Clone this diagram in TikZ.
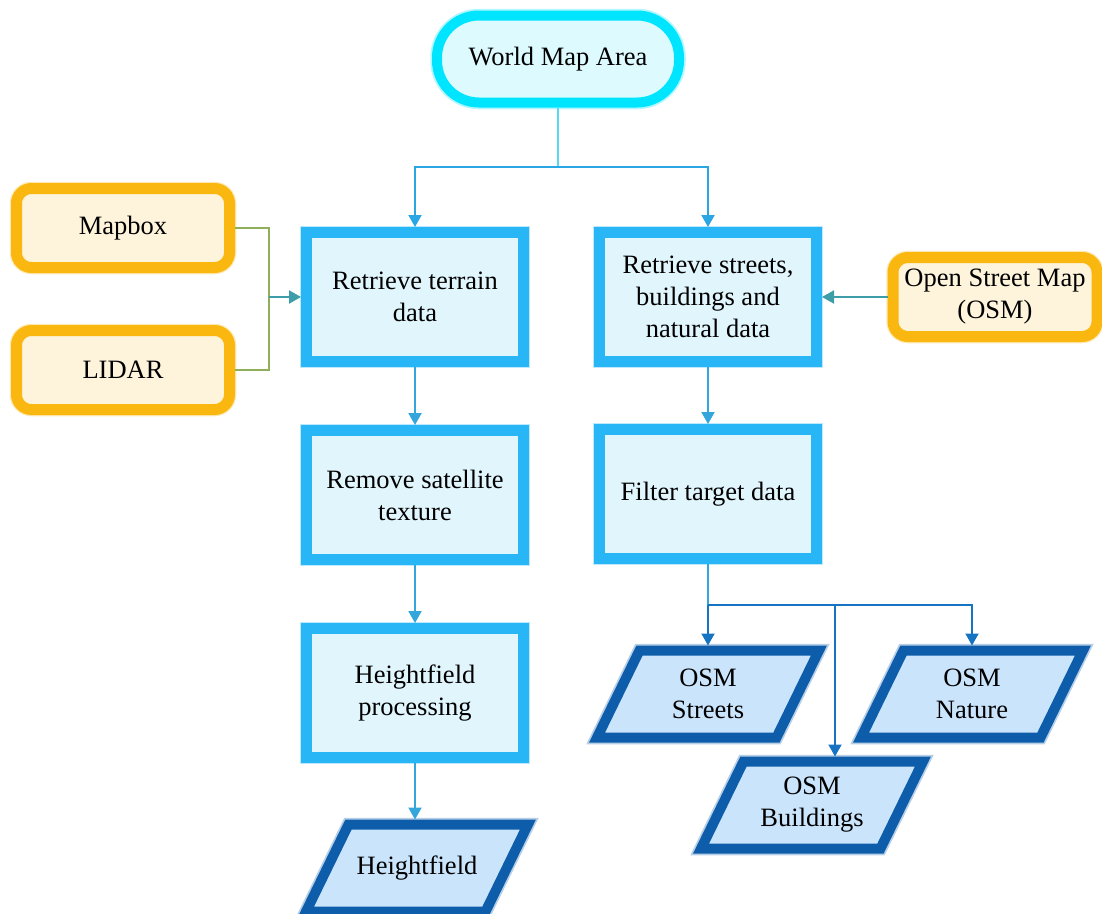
\documentclass[tikz,border=0pt]{standalone}
\usepackage{fontspec}
\setmainfont{Liberation Serif}
\usetikzlibrary{shapes.geometric,arrows.meta}

\definecolor{startB}{HTML}{00E5FF}
\definecolor{startF}{HTML}{DDFAFF}
\definecolor{procB}{HTML}{29B6F6}
\definecolor{procF}{HTML}{E1F5FD}
\definecolor{srcB}{HTML}{FAB70F}
\definecolor{srcF}{HTML}{FEF3DB}
\definecolor{dataB}{HTML}{0D5DAB}
\definecolor{dataF}{HTML}{C9E4FB}
\definecolor{topLine}{HTML}{2AA6E4}
\definecolor{stemLine}{HTML}{5AD8F2}
\definecolor{colLine}{HTML}{34A6DC}
\definecolor{srcLine}{HTML}{8FAF5A}
\definecolor{srcArrow}{HTML}{3D9DA8}
\definecolor{outLine}{HTML}{1673C2}

% fixed-size text block for the parallelogram data nodes
\newcommand\dataLabel[1]{\parbox[c][87pt][c]{137pt}{\centering #1}}

\begin{document}
\begin{tikzpicture}[x=1pt,y=-1pt,
  font=\fontsize{26.5}{32}\selectfont,
  glow/.style={preaction={draw=#1,line width=13.5pt,opacity=0.3}},
  startbox/.style={rectangle,rounded corners=42pt,draw=startB,fill=startF,
    line width=10pt,minimum width=242pt,minimum height=87pt,glow=startB},
  procbox/.style={rectangle,draw=procB,fill=procF,line width=11pt,
    minimum width=217pt,minimum height=129pt,align=center,inner sep=2pt,glow=procB},
  srcbox/.style={rectangle,rounded corners=15pt,draw=srcB,fill=srcF,line width=11pt,
    minimum height=79pt,align=center,inner sep=2pt,glow=srcB},
  databox/.style={trapezium,trapezium left angle=64,trapezium right angle=116,
    draw=dataB,fill=dataF,line width=10pt,inner sep=0pt,glow=dataB},
  tip/.style={-{Triangle[length=12pt,width=13pt]}},
  link/.style={line width=2pt}
]
\useasboundingbox (0,0) rectangle (1102,913);

% top terminal
\node[startbox] (wma) at (558,59) {World Map Area};

% left column: terrain pipeline
\node[procbox] (terrain) at (415,297) {Retrieve terrain\\data};
\node[procbox] (sat) at (415,495) {Remove satellite\\texture};
\node[procbox] (hproc) at (415,693) {Heightfield\\processing};
\node[databox] (hf) at (417,868) {\dataLabel{Heightfield}};

% right column: OSM pipeline
\node[procbox] (streets) at (708,297) {Retrieve streets,\\buildings and\\natural data};
\node[procbox] (filter) at (708,494) {Filter target data};
\node[databox] (ostreets) at (708,694) {\dataLabel{OSM\\Streets}};
\node[databox] (onature) at (972,694) {\dataLabel{OSM\\Nature}};
\node[databox] (obuild) at (812,805) {\dataLabel{OSM\\Buildings}};

% data sources
\node[srcbox,minimum width=213pt] (mapbox) at (123,228) {Mapbox};
\node[srcbox,minimum width=213pt] (lidar) at (123,370) {LIDAR};
\node[srcbox,minimum width=204pt] (osm) at (995,297) {Open Street Map\\(OSM)};

% split below the terminal
\coordinate (split) at (558,167);
\draw[link,stemLine] (wma.south) -- (split);
\draw[link,topLine,tip] (split) -| (terrain.north);
\draw[link,topLine,tip] (split) -| (streets.north);

% sources feeding the retrieval steps
\coordinate (srcjoin) at (269,297);
\draw[link,srcLine] (mapbox.east) -| (srcjoin);
\draw[link,srcLine] (lidar.east) -| (srcjoin);
\draw[link,srcArrow,tip] (srcjoin) -- (terrain.west);
\draw[link,srcArrow,tip] (osm.west) -- (streets.east);

% column flows
\draw[link,colLine,tip] (terrain.south) -- (sat.north);
\draw[link,colLine,tip] (sat.south) -- (hproc.north);
\draw[link,colLine,tip] (hproc.south) -- (hproc.south |- hf.north);
\draw[link,colLine,tip] (streets.south) -- (filter.north);

% filter outputs
\coordinate (fsplit) at (708,605);
\coordinate (bsplit) at (835,605);
\draw[link,colLine] (filter.south) -- (fsplit);
\draw[link,outLine,tip] (fsplit) -- (ostreets.north);
\draw[link,outLine,tip] (fsplit) -| (onature.north);
\draw[link,outLine,tip] (bsplit) -- (bsplit |- obuild.north);
\end{tikzpicture}
\end{document}
